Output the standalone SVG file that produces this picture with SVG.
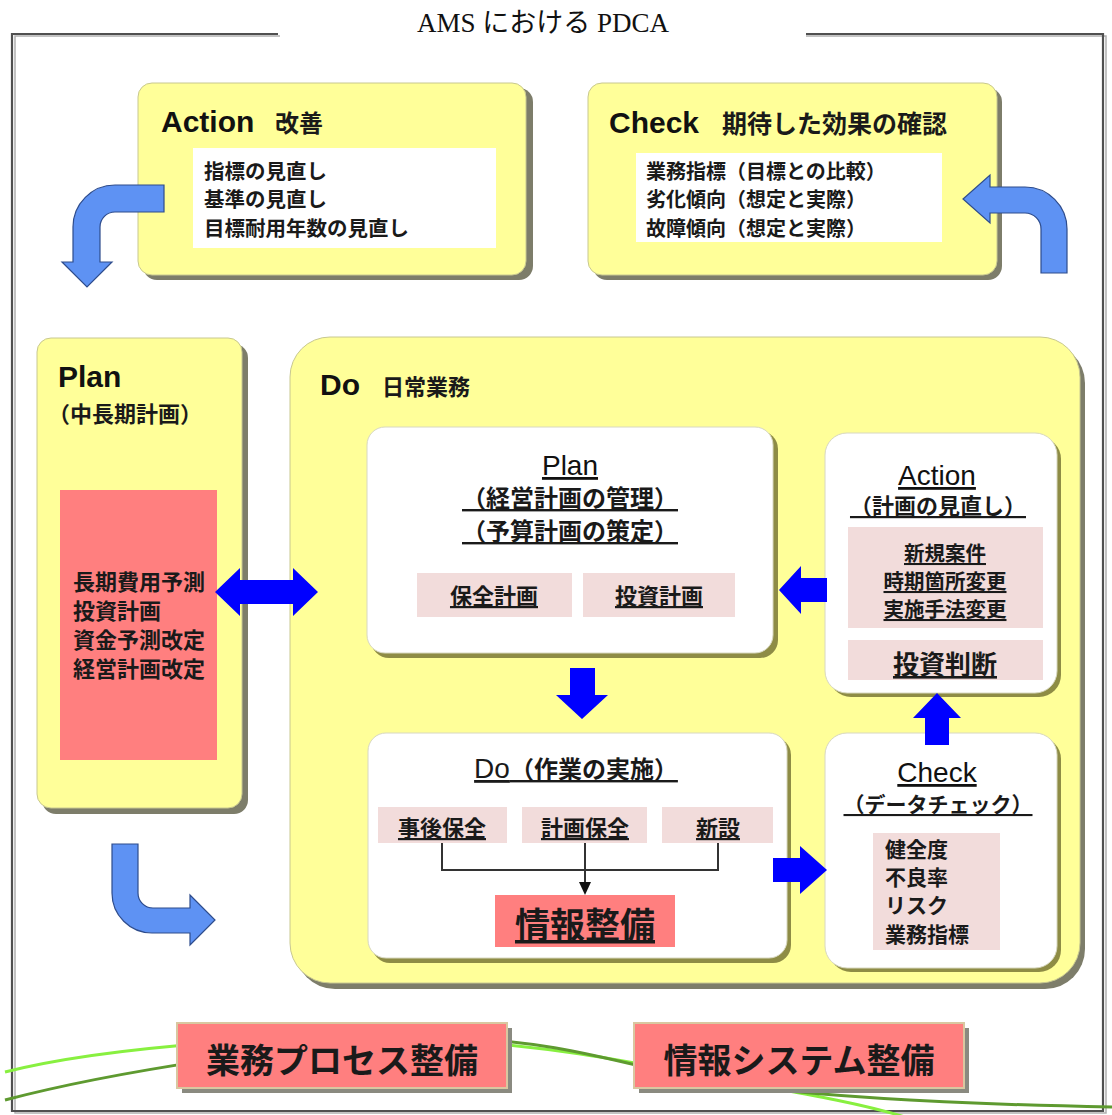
<svg xmlns="http://www.w3.org/2000/svg" width="1112" height="1115" viewBox="0 0 1112 1115">
<style>
.yb{fill:#FFFF99;stroke:#c8c890;stroke-width:1}
.ysh{fill:#7d7d6a}
.wb{fill:#FFFFFF;stroke:#d8d8c0;stroke-width:1}
.wsh{fill:#8e8c45}
.pk{fill:#F2DCDB}
.rd{fill:#FF7F7F}
.rdb{fill:#FF7F7F;stroke:#d9c7a0;stroke-width:2}
.rsh{fill:#8a8a80}
.en{font-family:"Liberation Sans","Noto Sans CJK JP",sans-serif;font-weight:bold;fill:#111}
.enn{font-family:"Liberation Sans","Noto Sans CJK JP",sans-serif;font-weight:normal;fill:#111}
.jp{font-family:"Noto Sans CJK JP","Liberation Sans",sans-serif;font-weight:bold;fill:#1a1a1a}
.ul{text-decoration:underline}
.mid{text-anchor:middle}
.blue{fill:#0000FF}
.lb{fill:#5E92F3;stroke:#2E4C8C;stroke-width:1.2}
</style>
<rect width="1112" height="1115" fill="#FFFFFF"/>
<g id="frame" fill="none">
<path d="M280,36 L15,36 L15,1113 L1106,1113 L1106,36 L806,36" stroke="#b0b0b0" stroke-width="1.5"/>
<path d="M278,34 L12,34 L12,1111 L1103,1111 L1103,34 L806,34" stroke="#505050" stroke-width="2.2"/>
</g>
<text id="title" x="543" y="32" text-anchor="middle" font-family="'Liberation Serif','Noto Sans CJK JP',serif" font-size="27" fill="#111">AMS における PDCA</text>
<g id="ribbon" fill="none" stroke-width="3">
<path d="M5,1072 C100,1048 300,1030 450,1040 C550,1047 610,1058 700,1075 C780,1090 850,1100 905,1117" stroke="#88F040"/>
<path d="M5,1100 C100,1075 300,1040 450,1038 C550,1040 610,1060 700,1080 C800,1096 950,1104 1112,1107" stroke="#5E9A30"/>
</g>
<g id="action-top">
<rect class="ysh" x="143" y="88" width="390" height="192" rx="14"/>
<rect class="yb" x="138" y="83" width="388" height="192" rx="14"/>
<text class="en" x="161" y="132" font-size="30">Action</text>
<text class="jp" x="275" y="132" font-size="24">改善</text>
<rect x="193" y="148" width="303" height="100" fill="#FFFFFF"/>
<text class="jp" x="204" y="179" font-size="20.5">指標の見直し</text>
<text class="jp" x="204" y="207" font-size="20.5">基準の見直し</text>
<text class="jp" x="204" y="236" font-size="20.5">目標耐用年数の見直し</text>
</g>
<g id="check-top">
<rect class="ysh" x="593" y="88" width="409" height="192" rx="14"/>
<rect class="yb" x="588" y="83" width="409" height="192" rx="14"/>
<text class="en" x="609" y="133" font-size="30">Check</text>
<text class="jp" x="722" y="133" font-size="25">期待した効果の確認</text>
<rect x="636" y="153" width="306" height="89" fill="#FFFFFF"/>
<text class="jp" x="646" y="179" font-size="20">業務指標（目標との比較）</text>
<text class="jp" x="646" y="207" font-size="20">劣化傾向（想定と実際）</text>
<text class="jp" x="646" y="236" font-size="20">故障傾向（想定と実際）</text>
</g>
<g id="plan-left">
<rect class="ysh" x="42" y="344" width="206" height="470" rx="14"/>
<rect class="yb" x="37" y="338" width="205" height="470" rx="14"/>
<text class="en" x="58" y="387" font-size="30">Plan</text>
<text class="jp" x="48" y="422" font-size="22">（中長期計画）</text>
<rect class="rd" x="60" y="490" width="157" height="270"/>
<text class="jp" x="73" y="590" font-size="22">長期費用予測</text>
<text class="jp" x="73" y="619" font-size="22">投資計画</text>
<text class="jp" x="73" y="648" font-size="22">資金予測改定</text>
<text class="jp" x="73" y="677" font-size="22">経営計画改定</text>
</g>
<g id="do-main">
<rect class="ysh" x="295" y="343" width="790" height="646" rx="40"/>
<rect class="yb" x="290" y="337" width="790" height="646" rx="40"/>
<text class="en" x="320" y="395" font-size="30">Do</text>
<text class="jp" x="382" y="395" font-size="22">日常業務</text>
</g>
<g id="inner-plan">
<rect class="wsh" x="371" y="431" width="407" height="227" rx="18"/>
<rect class="wb" x="367" y="427" width="406" height="226" rx="18"/>
<text class="enn mid ul" x="570" y="475" font-size="28">Plan</text>
<text class="jp mid ul" x="570" y="507" font-size="24">（経営計画の管理）</text>
<text class="jp mid ul" x="570" y="540" font-size="24">（予算計画の策定）</text>
<rect class="pk" x="417" y="573" width="155" height="44"/>
<rect class="pk" x="583" y="573" width="152" height="44"/>
<text class="jp mid ul" x="494" y="604" font-size="22">保全計画</text>
<text class="jp mid ul" x="659" y="604" font-size="22">投資計画</text>
</g>
<g id="inner-action">
<rect class="wsh" x="829" y="437" width="232" height="260" rx="22"/>
<rect class="wb" x="825" y="433" width="232" height="260" rx="22"/>
<text class="enn mid ul" x="937" y="485" font-size="28">Action</text>
<text class="jp mid ul" x="938" y="514" font-size="22">（計画の見直し）</text>
<rect class="pk" x="848" y="527" width="195" height="101"/>
<text class="jp mid ul" x="945" y="561" font-size="20.5">新規案件</text>
<text class="jp mid ul" x="945" y="589" font-size="20.5">時期箇所変更</text>
<text class="jp mid ul" x="945" y="617" font-size="20.5">実施手法変更</text>
<rect class="pk" x="848" y="640" width="195" height="40"/>
<text class="jp mid ul" x="945" y="674" font-size="26">投資判断</text>
</g>
<g id="inner-do">
<rect class="wsh" x="372" y="737" width="419" height="226" rx="18"/>
<rect class="wb" x="368" y="733" width="419" height="225" rx="18"/>
<text class="jp mid ul" x="576" y="778" font-size="24"><tspan font-family="'Liberation Sans',sans-serif" font-weight="normal" font-size="28">Do</tspan>（作業の実施）</text>
<rect class="pk" x="378" y="807" width="129" height="36"/>
<rect class="pk" x="522" y="807" width="125" height="36"/>
<rect class="pk" x="662" y="807" width="111" height="36"/>
<text class="jp mid ul" x="442" y="836" font-size="22">事後保全</text>
<text class="jp mid ul" x="585" y="836" font-size="22">計画保全</text>
<text class="jp mid ul" x="718" y="836" font-size="22">新設</text>
<rect class="rd" x="495" y="895" width="180" height="52"/>
<text class="jp mid ul" x="585" y="938" font-size="35">情報整備</text>
</g>
<g id="inner-check">
<rect class="wsh" x="829" y="737" width="232" height="235" rx="22"/>
<rect class="wb" x="825" y="733" width="232" height="235" rx="22"/>
<text class="enn mid ul" x="937" y="782" font-size="28">Check</text>
<text class="jp mid ul" x="938" y="812" font-size="21">（データチェック）</text>
<rect class="pk" x="873" y="833" width="127" height="117"/>
<text class="jp" x="885" y="857" font-size="21">健全度</text>
<text class="jp" x="885" y="885" font-size="21">不良率</text>
<text class="jp" x="885" y="913" font-size="21">リスク</text>
<text class="jp" x="885" y="942" font-size="21">業務指標</text>
</g>
<g id="process-box">
<rect class="rsh" x="182" y="1028" width="330" height="65"/>
<rect class="rdb" x="177" y="1023" width="330" height="65"/>
<text class="jp mid" x="342" y="1073" font-size="34">業務プロセス整備</text>
</g>
<g id="system-box">
<rect class="rsh" x="639" y="1028" width="330" height="65"/>
<rect class="rdb" x="634" y="1023" width="330" height="65"/>
<text class="jp mid" x="799" y="1073" font-size="34">情報システム整備</text>
</g>
<g id="connectors">
<path class="lb" d="M164,185 L115,185 A42,42 0 0 0 73,227 L73,262 L62,262 L87,287 L112,262 L100,262 L100,227 A15,15 0 0 1 115,212 L164,212 Z"/>
<path class="lb" d="M1041,273 L1067,273 L1067,229 A42,42 0 0 0 1025,187 L990,187 L990,175 L963,199 L990,223 L990,213 L1025,213 A16,16 0 0 1 1041,229 Z"/>
<path class="lb" d="M112,844 L138,844 L138,893 A15,15 0 0 0 153,908 L190,908 L190,895 L215,920 L190,945 L190,933 L152,933 A40,40 0 0 1 112,893 Z"/>
<path class="blue" d="M215,592 L240,568 L240,580 L293,580 L293,568 L318,592 L293,616 L293,604 L240,604 L240,616 Z"/>
<path class="blue" d="M779,590 L801,566 L801,578 L827,578 L827,602 L801,602 L801,614 Z"/>
<path class="blue" d="M570,668 L595,668 L595,695 L608,695 L582,719 L556,695 L570,695 Z"/>
<path class="blue" d="M925,745 L949,745 L949,718 L961,718 L937,693 L913,718 L925,718 Z"/>
<path class="blue" d="M773,858 L800,858 L800,846 L827,870 L800,894 L800,882 L773,882 Z"/>
<path d="M442,843 L442,870 L718,870 L718,843 M585,843 L585,884" fill="none" stroke="#333" stroke-width="2"/>
<path d="M579,882 L591,882 L585,895 Z" fill="#111"/>
</g>
</svg>
